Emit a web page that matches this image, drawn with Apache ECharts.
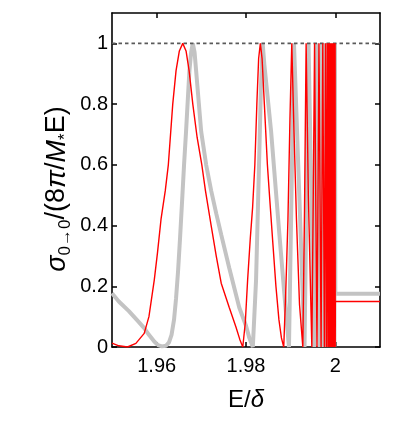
<!DOCTYPE html>
<html><head><meta charset="utf-8">
<script src="https://cdn.jsdelivr.net/npm/echarts@6/dist/echarts.min.js"></script>
<style>html,body{margin:0;padding:0;background:#fff}#c{width:399px;height:422px}</style>
</head><body><div id="c"></div>
<script>
const xTicks = [1.96, 1.98, 2];
const yTicks = [0, 0.2, 0.4, 0.6, 0.8, 1];

const redX = [1.95, 1.95153, 1.95348, 1.95535, 1.95721, 1.95827, 1.95946, 1.96018, 1.96097, 1.96193, 1.96261, 1.96360, 1.96434, 1.96508, 1.96584, 1.96658, 1.96726, 1.96809, 1.96906, 1.97011, 1.97092, 1.97220, 1.97333, 1.97445, 1.97625, 1.97775, 1.97861, 1.97928, 1.97984, 1.98036, 1.98097, 1.98148, 1.98198, 1.98243, 1.98283, 1.98321, 1.98360, 1.98411, 1.98479, 1.98535, 1.98602, 1.98670, 1.98737, 1.98793, 1.98845, 1.98894, 1.98939, 1.98984, 1.99025, 1.99067, 1.99130, 1.99198, 1.99272, 1.99310, 1.99346, 1.99396, 1.99474, 1.99506, 1.99535, 1.99564, 1.99589, 1.99634, 1.99681, 1.99719, 1.99755,
  1.997798, 1.998000, 1.998202, 1.998360, 1.998517, 1.998629, 1.998742, 1.998831, 1.998921, 1.999000, 1.999079, 1.999135, 1.999191, 1.999247, 1.999303, 1.999348, 1.999393, 1.999427, 1.999461, 1.999494, 1.999528, 1.999557, 1.999584, 1.999613, 1.999640, 1.999663, 1.999685, 1.999708, 1.999730, 1.999753, 1.999775, 1.999798, 1.999820, 1.999843, 1.999865, 1.999888, 1.999910, 1.999933, 1.999955, 1.999978,
  2.0, 2.01];
const redY = [0.013, 0.004, 0, 0.012, 0.045, 0.10, 0.22, 0.31, 0.42, 0.515, 0.60, 0.80, 0.91, 0.975, 1.0, 0.975, 0.91, 0.80, 0.69, 0.60, 0.515, 0.40, 0.30, 0.21, 0.13, 0.066, 0.025, 0, 0.08, 0.22, 0.36, 0.46, 0.6, 0.8, 0.95, 1, 0.95, 0.8, 0.6, 0.48, 0.34, 0.2, 0.09, 0.03, 0, 0.2, 0.42, 0.75, 1, 0.75, 0.42, 0.14, 0, 0.45, 1, 0.5, 0, 0.5, 1, 0.45, 0, 1, 0, 1, 0,
  1, 0, 1, 0, 1, 0, 1, 0, 1, 0, 1, 0, 1, 0, 1, 0, 1, 0, 1, 0, 1, 0, 1, 0, 1, 0, 1, 0, 1, 0, 1, 0, 1, 0, 1, 0, 1, 0, 1, 0,
  0.15, 0.15];

const grayX = [1.95, 1.95153, 1.95378, 1.95602, 1.95721, 1.95827, 1.95946, 1.96029, 1.96119, 1.96209, 1.96276, 1.96333, 1.96389, 1.96434, 1.96479, 1.96524, 1.96569, 1.96613, 1.96658, 1.96733, 1.96771, 1.96809, 1.96849, 1.96883, 1.96996, 1.97108, 1.97220, 1.97333, 1.97445, 1.97625, 1.97849, 1.98, 1.98074, 1.98153, 1.98225, 1.98283, 1.98333, 1.98373, 1.98411, 1.98562, 1.98748, 1.98861, 1.98962, 1.99018, 1.99074, 1.99198, 1.99310, 1.99355, 1.99400, 1.99524, 1.99591, 1.99647, 1.99699, 1.99737, 1.99773, 1.99802, 1.99829, 1.99852, 1.99872, 1.99892, 1.99910, 1.99926, 1.99939, 1.99953, 1.99966, 1.99980, 1.99991, 2.0, 2.01];
const grayY = [0.177, 0.15, 0.118, 0.082, 0.062, 0.04, 0.018, 0.006, 0.002, 0.004, 0.015, 0.04, 0.09, 0.16, 0.25, 0.36, 0.48, 0.6, 0.71, 0.91, 0.97, 1, 0.97, 0.91, 0.71, 0.6, 0.515, 0.44, 0.37, 0.26, 0.13, 0.07, 0.03, 0, 0.22, 0.55, 0.85, 1, 0.93, 0.71, 0.37, 0.17, 0, 0.5, 1, 0.48, 0, 0.5, 1, 0, 1, 0, 1, 0, 1, 0, 1, 0, 1, 0, 1, 0, 1, 0, 1, 0, 1, 0.175, 0.175];

const unityX = [1.95, 2.01];
const unityY = [1, 1];

const pairs = (xs, ys) => xs.map((x, i) => [x, ys[i]]);
const FONT = '"Liberation Sans", Arial, Helvetica, sans-serif';

const chart = echarts.init(document.getElementById('c'), null, {renderer: 'canvas'});
const axisLine = {show: true, onZero: false, lineStyle: {color: '#000', width: 1.6}};
const fmt = v => String(Math.round(v * 100) / 100);

chart.setOption({
  animation: false,
  backgroundColor: '#fff',
  grid: {left: 112, right: 19, top: 13, bottom: 75, containLabel: false},
  xAxis: [{
    type: 'value', position: 'bottom', min: 1.95, max: 2.01,
    axisLine: axisLine,
    axisTick: {inside: true, length: 5, customValues: xTicks, lineStyle: {color: '#000', width: 1.5}},
    axisLabel: {customValues: xTicks, formatter: fmt, fontSize: 20, color: '#000', fontFamily: FONT, margin: 9},
    splitLine: {show: false},
    name: 'E/{i|δ}', nameLocation: 'middle', nameGap: 41,
    nameTextStyle: {fontSize: 24, color: '#000', fontFamily: FONT, rich: {i: {fontSize: 24, fontStyle: 'italic', fontFamily: FONT, color: '#000'}}}
  }, {
    type: 'value', position: 'top', min: 1.95, max: 2.01,
    axisLine: axisLine,
    axisTick: {inside: true, length: 5, customValues: xTicks, lineStyle: {color: '#000', width: 1.5}},
    axisLabel: {show: false}, splitLine: {show: false}
  }],
  yAxis: [{
    type: 'value', position: 'left', min: 0, max: 1.1,
    axisLine: axisLine,
    axisTick: {inside: true, length: 5, customValues: yTicks, lineStyle: {color: '#000', width: 1.5}},
    axisLabel: {customValues: yTicks, formatter: fmt, fontSize: 20, color: '#000', fontFamily: FONT, margin: 4},
    splitLine: {show: false}
  }, {
    type: 'value', position: 'right', min: 0, max: 1.1,
    axisLine: axisLine,
    axisTick: {inside: true, length: 5, customValues: yTicks, lineStyle: {color: '#000', width: 1.5}},
    axisLabel: {show: false}, splitLine: {show: false}
  }],
  graphic: [{
    type: 'text', x: 57, y: 189, rotation: Math.PI / 2,
    style: {
      text: '{s|σ}{sub|0→0}{n|/(8}{s|π}{n|/}{s|M}{sub|*}{n|E)}',
      align: 'center', verticalAlign: 'middle',
      rich: {
        n: {fontSize: 27, fontFamily: FONT, fill: '#000', lineHeight: 34},
        s: {fontSize: 27, fontFamily: FONT, fontStyle: 'italic', fill: '#000', lineHeight: 34},
        sub: {fontSize: 17, fontFamily: FONT, fill: '#000', lineHeight: 17, verticalAlign: 'bottom'}
      }
    }
  }],
  series: [{
    type: 'line', data: pairs(grayX, grayY), showSymbol: false, symbol: 'none',
    lineStyle: {color: '#c3c3c3', width: 4}, z: 2, clip: true
  }, {
    type: 'line', data: pairs(unityX, unityY), showSymbol: false, symbol: 'none',
    lineStyle: {color: '#5a5a5a', width: 1.6, type: [3.5, 3]}, z: 3
  }, {
    type: 'line', data: pairs(redX, redY), showSymbol: false, symbol: 'none',
    lineStyle: {color: '#ff0000', width: 1.4}, z: 4, clip: true
  }]
});
</script>
</body></html>
